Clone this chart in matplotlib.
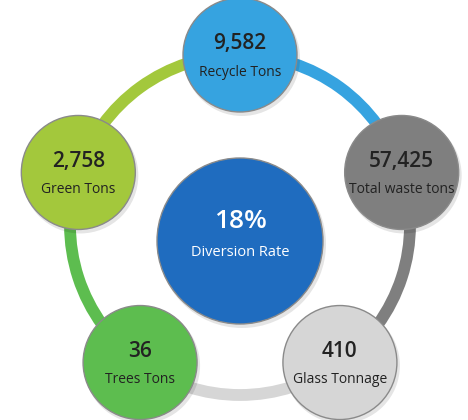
import numpy as np
import matplotlib
matplotlib.use("Agg")
import matplotlib.pyplot as plt
from matplotlib.patches import Circle, Arc

# ---- data ----
labels = ["Recycle Tons", "Total waste tons", "Glass Tonnage", "Trees Tons", "Green Tons"]
values = ["9,582", "57,425", "410", "36", "2,758"]
colors = ["#36a3e0", "#7f7f7f", "#d6d6d6", "#5dbd4f", "#a3c83c"]
center_value = "18%"
center_label = "Diversion Rate"
center_color = "#1f6cbf"

plt.rcParams['font.family'] = ['Open Sans', 'DejaVu Sans']

fig = plt.figure(figsize=(4.68, 4.2), dpi=100)
ax = fig.add_axes([0, 0, 1, 1])
ax.set_xlim(0, 468)
ax.set_ylim(420, 0)
ax.set_aspect('equal')
ax.axis('off')

cx, cy, R = 240, 225, 170
node_r = 57
n = len(labels)
angles = [90 - 72 * i for i in range(n)]

# ring segments (clockwise from each node, in node's colour)
for i in range(n):
    a0 = angles[i]
    a1 = a0 - 72
    arc = Arc((cx, cy), 2 * R, 2 * R, theta1=-a0, theta2=-a1,
              color=colors[i], lw=8.5, zorder=1)
    ax.add_patch(arc)

def node(x, y, r, col, val, lab, tcol, vsize, lsize, dv, dl, vw):
    ax.add_patch(Circle((x + 2, y + 3), r + 1, color='#000000', alpha=0.10, zorder=2, lw=0))
    ax.add_patch(Circle((x, y), r, facecolor=col, edgecolor='#8a8a8a', lw=1.0, zorder=3))
    ax.text(x, y + dv, val, ha='center', va='center', fontsize=vsize,
            color=tcol, zorder=4, fontweight=vw)
    ax.text(x, y + dl, lab, ha='center', va='center', fontsize=lsize,
            color=tcol, zorder=4)

for i in range(n):
    t = np.deg2rad(angles[i])
    x = cx + R * np.cos(t)
    y = cy - R * np.sin(t)
    node(x, y, node_r, colors[i], values[i], labels[i], '#222222', 15, 10, -11, 17, 'semibold')

# centre circle
node(240, 241, 83, center_color, center_value, center_label, 'white', 19, 10.5, -19, 12, 'semibold')

fig.savefig("out.png", dpi=100, facecolor='white')
